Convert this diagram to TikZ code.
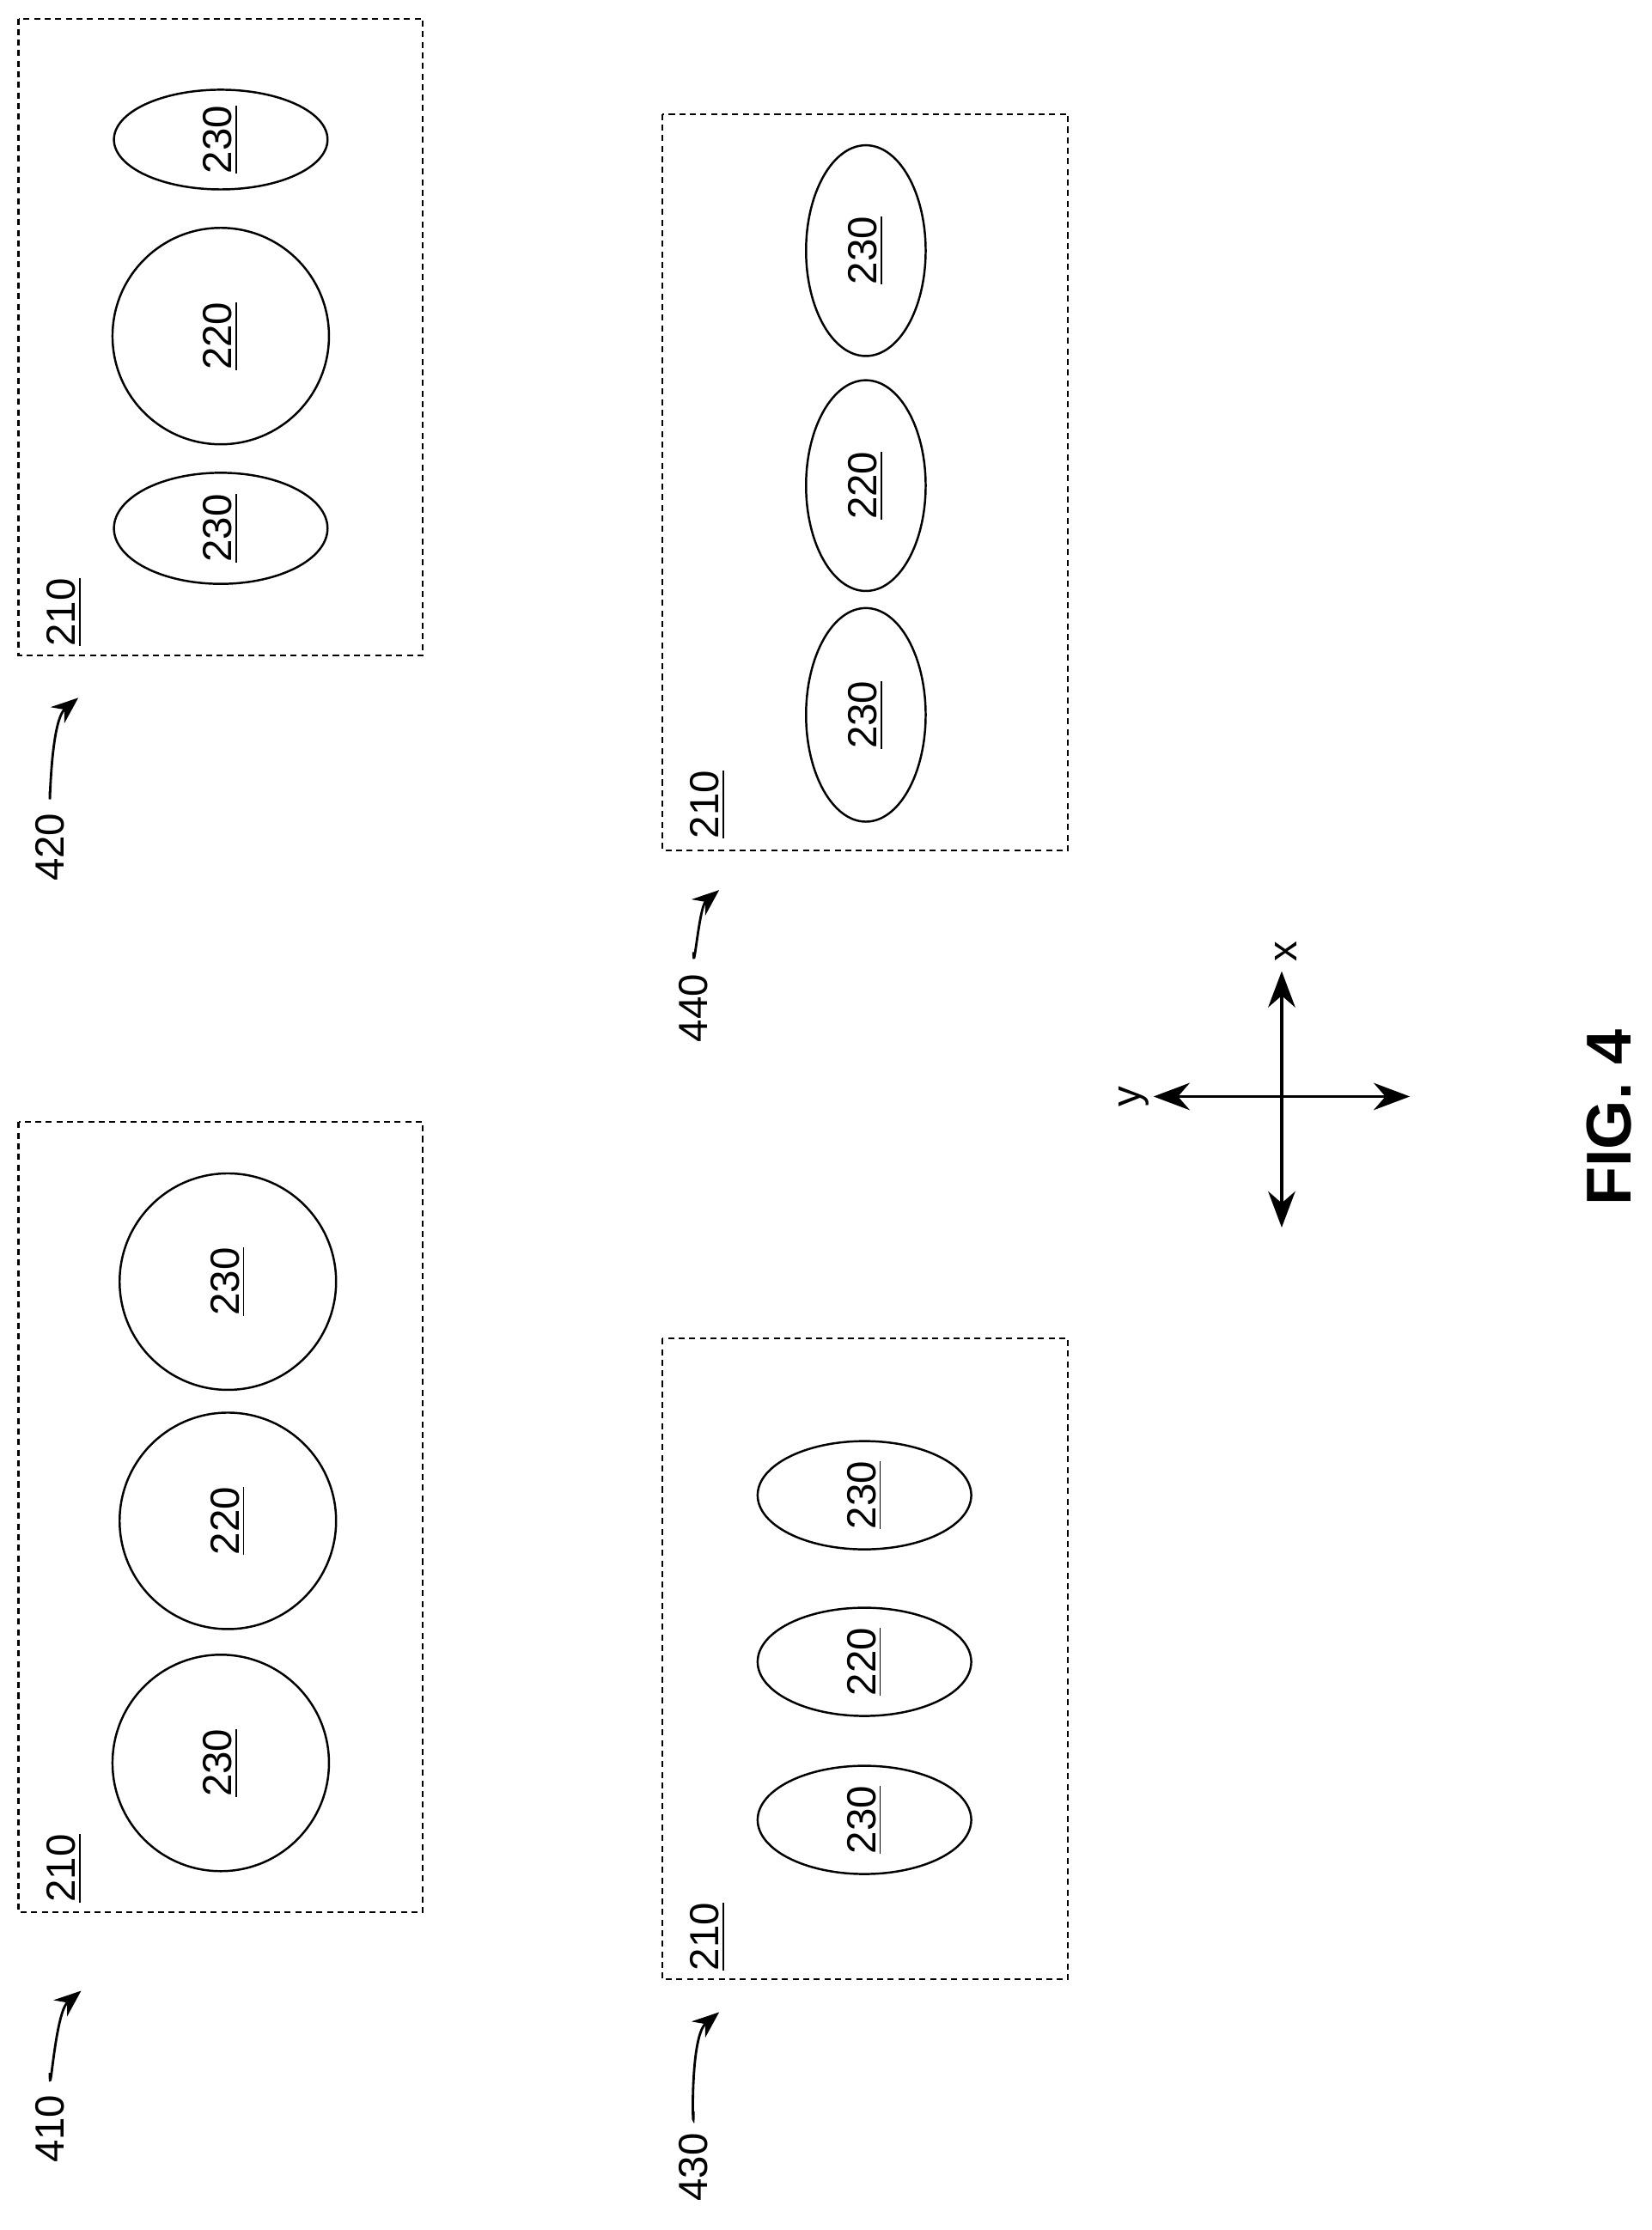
\documentclass[tikz,border=0pt]{standalone}
\usepackage{fontspec}
\setmainfont{Liberation Sans}
\usetikzlibrary{arrows.meta}
\begin{document}
\begin{tikzpicture}[x=0.1658mm,y=-0.1658mm,
 box/.style={draw,dash pattern=on 2pt off 1.5pt,line width=0.6pt},
 el/.style={draw,line width=0.7pt},
 lab/.style={rotate=90,font=\fontsize{13.5}{15}\selectfont},
 ref/.style={-{Stealth[length=9pt,width=7pt]},line width=0.8pt},
 ax/.style={{Stealth[length=12pt,width=9pt]}-{Stealth[length=12pt,width=9pt]},line width=0.9pt}]
\useasboundingbox (0,0) rectangle (1160,1566);
% 410
\draw[box] (13,788) rectangle (297,1343);
\draw[el] (155,1238) circle (76); \node[lab] (a1) at (155,1238) {\underline{230}};
\draw[el] (160,1068) circle (76); \node[lab] (a2) at (160,1068) {\underline{220}};
\draw[el] (160,900) circle (76); \node[lab] (a3) at (160,900) {\underline{230}};
\node[lab] (b410) at (45,1312) {\underline{210}};
\node[lab] (l410) at (35,1495) {410};
\coordinate (t410) at (57,1398);
\draw[ref] (l410.east) ++(0,-8) to[out=-90,in=220] (t410);
% 420
\draw[box] (13,13) rectangle (297,460);
\draw[el] (155,371) ellipse (75 and 39); \node[lab] (c1) at (155,371) {\underline{230}};
\draw[el] (155,236) circle (76); \node[lab] (c2) at (155,236) {\underline{220}};
\draw[el] (155,98) ellipse (75 and 35); \node[lab] (c3) at (155,98) {\underline{230}};
\node[lab] (b420) at (45,430) {\underline{210}};
\node[lab] (l420) at (35,595) {420};
\coordinate (t420) at (55,490);
\draw[ref] (l420.east) ++(0,-8) to[out=-90,in=220] (t420);
% 440
\draw[box] (465,80) rectangle (750,597);
\draw[el] (608,176) ellipse (42 and 74); \node[lab] (d1) at (608,176) {\underline{230}};
\draw[el] (608,341) ellipse (42 and 74); \node[lab] (d2) at (608,341) {\underline{220}};
\draw[el] (608,502) ellipse (42 and 75); \node[lab] (d3) at (608,502) {\underline{230}};
\node[lab] (b440) at (497,565) {\underline{210}};
\node[lab] (l440) at (487,708) {440};
\coordinate (t440) at (505,625);
\draw[ref] (l440.east) ++(0,-8) to[out=-90,in=220] (t440);
% 430
\draw[box] (465,940) rectangle (750,1390);
\draw[el] (607,1278) ellipse (75 and 38); \node[lab] (e1) at (607,1278) {\underline{230}};
\draw[el] (607,1167) ellipse (75 and 38); \node[lab] (e2) at (607,1167) {\underline{220}};
\draw[el] (607,1050) ellipse (75 and 38); \node[lab] (e3) at (607,1050) {\underline{230}};
\node[lab] (b430) at (497,1360) {\underline{210}};
\node[lab] (l430) at (487,1522) {430};
\coordinate (t430) at (505,1413);
\draw[ref] (l430.east) ++(0,-8) to[out=-90,in=220] (t430);
% axes
\coordinate (yl) at (810,770); \coordinate (yr) at (990,770);
\coordinate (xt) at (900,682); \coordinate (xb) at (900,862);
\draw[ax] (yl) -- (yr);
\draw[ax] (xb) -- (xt);
\node[lab] (ylab) at (796,770) {y};
\node[lab] (xlab) at (903,668) {x};
\node[rotate=90,font=\fontsize{21}{24}\selectfont\bfseries] (fig) at (1130,785) {FIG. 4};
\end{tikzpicture}
\end{document}
